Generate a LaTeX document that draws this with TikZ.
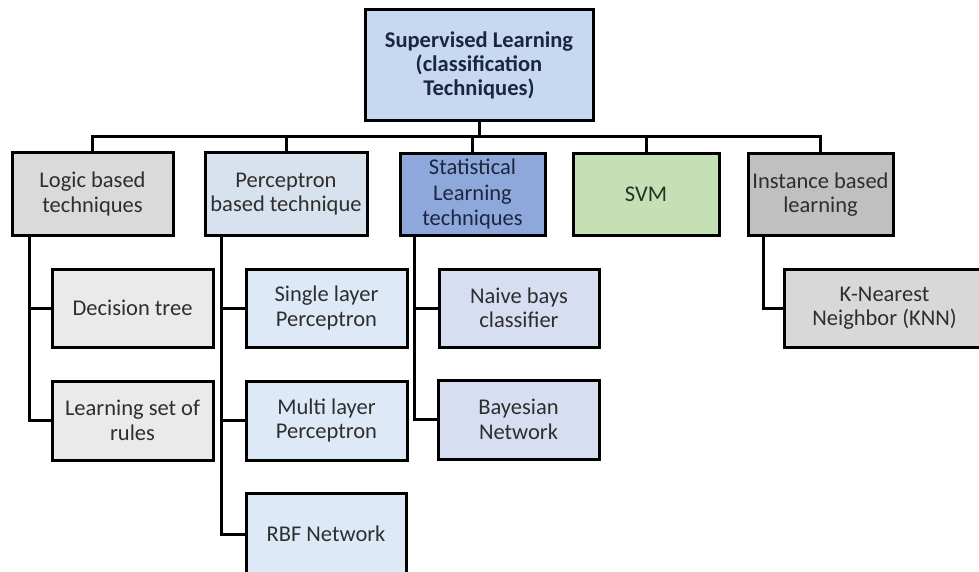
\documentclass[tikz,border=0pt]{standalone}
\usepackage{fontspec}
\setmainfont{Carlito}
\begin{document}
\begin{tikzpicture}[x=1pt,y=-1pt,
  box/.style={draw=black, line width=3pt, rectangle, inner sep=0pt, align=center,
    font=\fontsize{22.5}{24.5}\selectfont, text=black!82},
  wire/.style={draw=black, line width=3pt},
]
% page frame (everything outside it is cut off)
\clip (0,0) rectangle (979,572);
\fill[white] (0,0) rectangle (979,572);

\definecolor{rootfill}{RGB}{198,217,240}
\definecolor{grayA}{RGB}{218,218,218}
\definecolor{grayB}{RGB}{234,234,234}
\definecolor{percfill}{RGB}{216,225,238}
\definecolor{percchild}{RGB}{221,233,246}
\definecolor{statfill}{RGB}{142,168,219}
\definecolor{statchild}{RGB}{216,222,242}
\definecolor{svmfill}{RGB}{197,224,180}
\definecolor{instfill}{RGB}{192,192,192}
\definecolor{knnfill}{RGB}{216,216,216}
\definecolor{navytext}{RGB}{28,38,64}
\definecolor{greentext}{RGB}{36,52,36}

% root
\node[box, fill=rootfill, minimum width=228, minimum height=111, text=navytext,
      font=\fontsize{22.5}{24}\selectfont\bfseries] (root) at (479,65.5)
  {Supervised Learning\\(classification\\Techniques)};

% first level
\node[box, fill=grayA, minimum width=161, minimum height=82] (logic) at (92.5,194)
  {Logic based\\techniques};
\node[box, fill=percfill, minimum width=162, minimum height=82] (perc) at (286,194)
  {Perceptron\\based technique};
\node[box, fill=statfill, minimum width=145, minimum height=81, text=navytext,
      font=\fontsize{22.5}{25.5}\selectfont] (stat) at (472.5,194.5)
  {Statistical\\Learning\\techniques};
\node[box, fill=svmfill, minimum width=146, minimum height=81, text=greentext] (svm) at (646,194.5)
  {SVM};
\node[box, fill=instfill, minimum width=145, minimum height=81] (inst) at (820.5,194.5)
  {Instance based\\learning};

% second level
\node[box, fill=grayB, minimum width=161, minimum height=78] (dec) at (132.5,308)
  {Decision tree};
\node[box, fill=grayB, minimum width=161, minimum height=79] (rules) at (132.5,420.5)
  {Learning set of\\rules};
\node[box, fill=percchild, minimum width=161, minimum height=78] (single) at (326.5,308)
  {Single layer\\Perceptron};
\node[box, fill=percchild, minimum width=161, minimum height=79] (multi) at (326.5,420.5)
  {Multi layer\\Perceptron};
\node[box, fill=percchild, minimum width=160, minimum height=82] (rbf) at (326,534)
  {RBF Network};
\node[box, fill=statchild, minimum width=160, minimum height=78] (naive) at (519,308)
  {Naive bays\\classifier};
\node[box, fill=statchild, minimum width=161, minimum height=79] (bayes) at (518.5,419.5)
  {Bayesian\\Network};
\node[box, fill=knnfill, minimum width=201, minimum height=78] (knn) at (884.5,308)
  {K-Nearest\\Neighbor (KNN)};

% bus under the root
\coordinate (bus) at (0,137);
\draw[wire] (root.south) -- (root.south |- bus);
\draw[wire] (logic.north) |- (inst.north |- bus) -- (inst.north);
\draw[wire] (perc.north) -- (perc.north |- bus);
\draw[wire] (stat.north) -- (stat.north |- bus);
\draw[wire] (svm.north) -- (svm.north |- bus);

% trunks to the second level
\coordinate (tl) at (29,0);
\coordinate (tp) at (221,0);
\coordinate (ts) at (414,0);
\coordinate (ti) at (763,0);
\draw[wire] (tl |- logic.south) |- (rules.west);
\draw[wire] (dec.west) -- (dec.west -| tl);
\draw[wire] (tp |- perc.south) |- (rbf.west);
\draw[wire] (single.west) -- (single.west -| tp);
\draw[wire] (multi.west) -- (multi.west -| tp);
\draw[wire] (ts |- stat.south) |- (bayes.west);
\draw[wire] (naive.west) -- (naive.west -| ts);
\draw[wire] (ti |- inst.south) |- (knn.west);
\end{tikzpicture}
\end{document}
